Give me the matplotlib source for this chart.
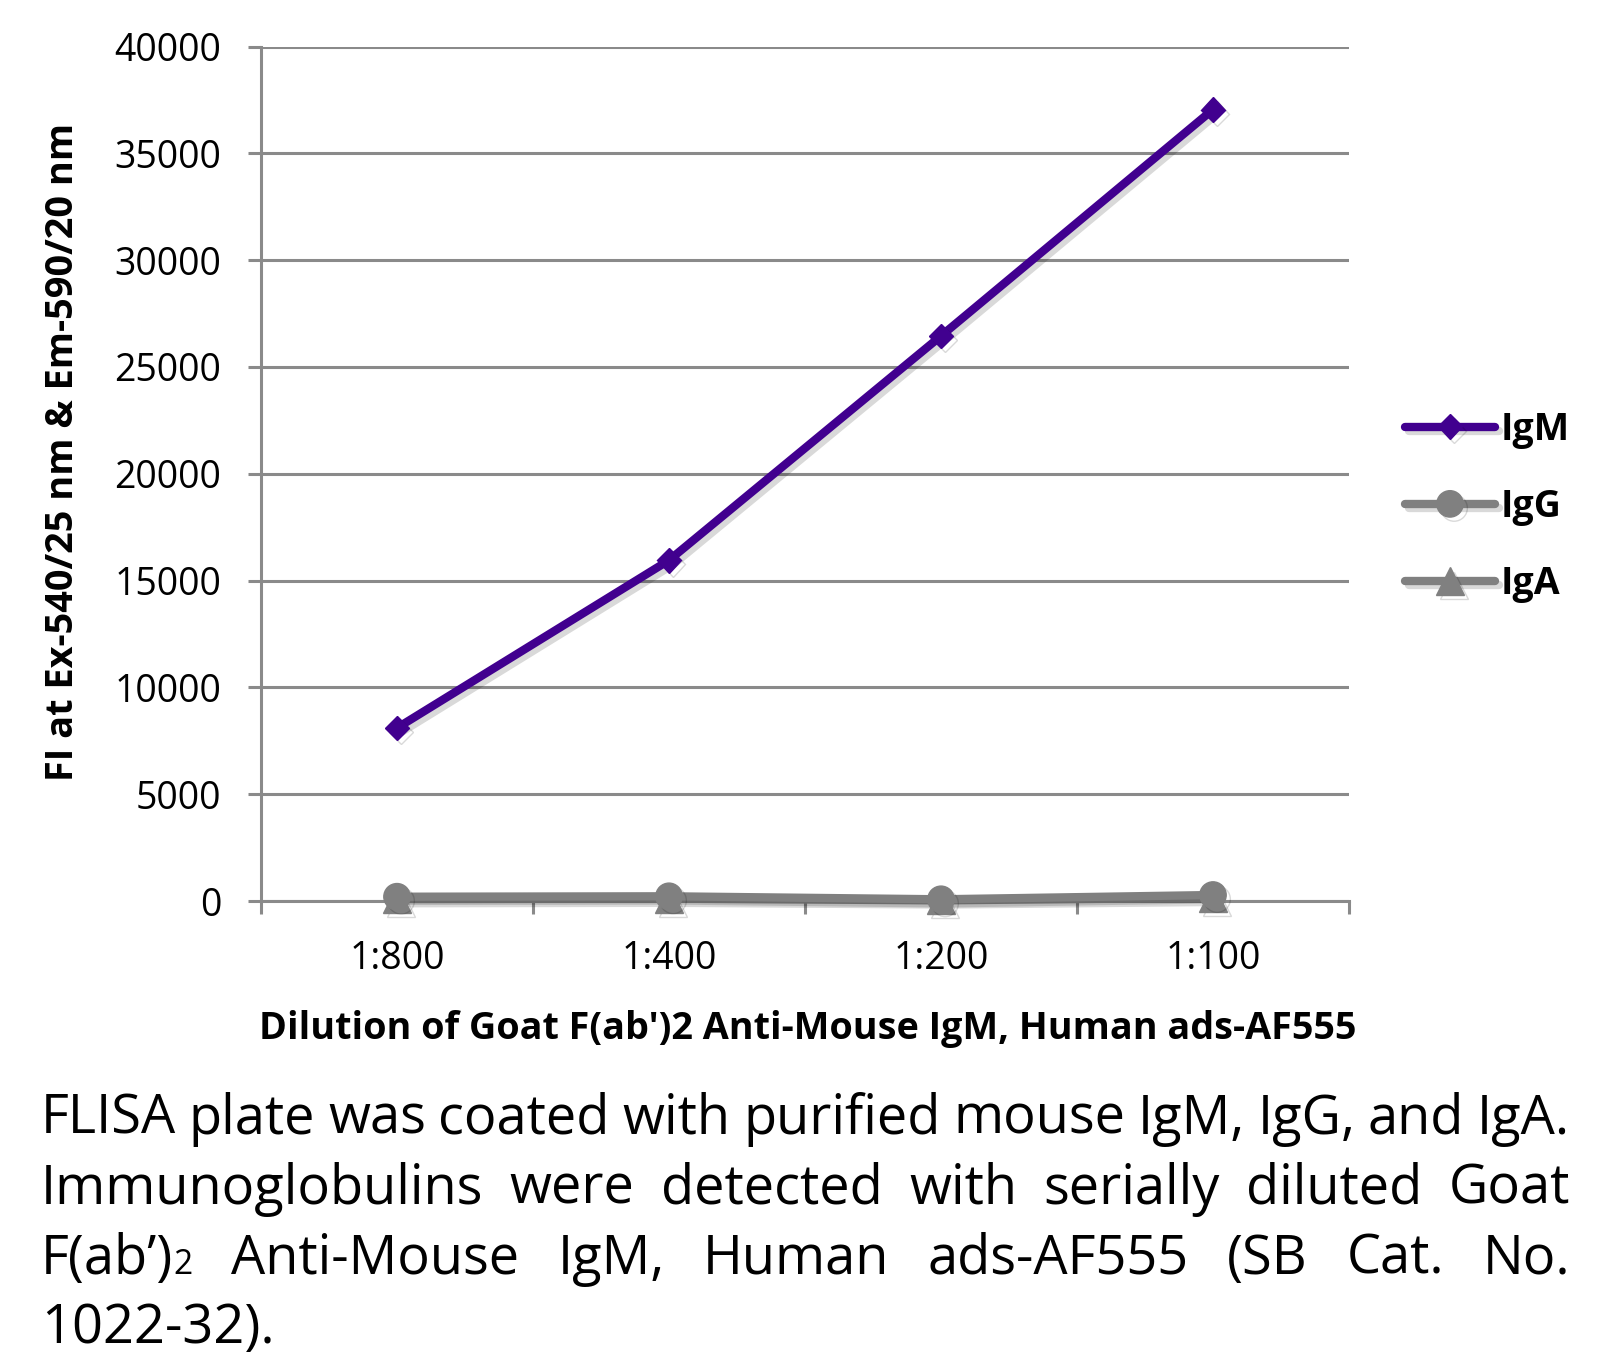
import matplotlib
matplotlib.use("Agg")
import matplotlib.pyplot as plt
import matplotlib.patheffects as pe
from matplotlib.font_manager import FontProperties

# ---------------- data ----------------
categories = ["1:800", "1:400", "1:200", "1:100"]
igm = [8100, 15950, 26450, 37050]
igg = [200, 220, 80, 280]
iga = [90, 110, 30, 150]
series_names = ["IgM", "IgG", "IgA"]
y_ticks = [0, 5000, 10000, 15000, 20000, 25000, 30000, 35000, 40000]

x_label = "Dilution of Goat F(ab')2 Anti-Mouse IgM, Human ads-AF555"
y_label = "FI at Ex-540/25 nm & Em-590/20 nm"
caption_lines = [
    "FLISA plate was coated with purified mouse IgM, IgG, and IgA.",
    "Immunoglobulins were detected with serially diluted Goat",
    "F(ab\u2019)_2 Anti-Mouse IgM, Human ads-AF555 (SB Cat. No.",
    "1022-32).",
]

# ---------------- style ----------------
W, H = 1617, 1356
DPI = 100
FONT = "Open Sans"
PURPLE = "#41008f"
GRAY = "#808080"
GRID = "#8a8a8a"

plt.rcParams["font.family"] = [FONT, "DejaVu Sans"]

fig = plt.figure(figsize=(W / DPI, H / DPI), dpi=DPI)
fig.patch.set_facecolor("white")


def fx(px):
    return px / W


def fy(py):
    return 1 - py / H


ax_l, ax_r, ax_t, ax_b = 261, 1349, 46.5, 901
ax = fig.add_axes([fx(ax_l), fy(ax_b), fx(ax_r - ax_l), (ax_b - ax_t) / H])

xs = list(range(len(categories)))
shadow = [pe.SimpleLineShadow(offset=(3, -3), shadow_color="black", alpha=0.15, rho=1.0),
          pe.Normal()]

lw = 6
l_iga, = ax.plot(xs, iga, color=GRAY, lw=lw, marker="^", ms=20, mec=GRAY, mfc=GRAY,
                 solid_capstyle="round", zorder=3, path_effects=shadow, clip_on=False)
l_igg, = ax.plot(xs, igg, color=GRAY, lw=lw, marker="o", ms=19, mec=GRAY, mfc=GRAY,
                 solid_capstyle="round", zorder=4, path_effects=shadow, clip_on=False)
l_igm, = ax.plot(xs, igm, color=PURPLE, lw=lw, marker="D", ms=12.5, mec=PURPLE, mfc=PURPLE,
                 solid_capstyle="round", zorder=5, path_effects=shadow, clip_on=False)

ax.set_xlim(-0.5, len(categories) - 0.5)
ax.set_ylim(y_ticks[0], y_ticks[-1])

# grid & spines
for s in ["top", "right"]:
    ax.spines[s].set_visible(False)
for s in ["left", "bottom"]:
    ax.spines[s].set_color(GRID)
    ax.spines[s].set_linewidth(2.2)
ax.set_yticks(y_ticks)
ax.yaxis.grid(True, color=GRID, linewidth=2.2)
ax.set_axisbelow(True)
ax.tick_params(axis="y", length=9.5, width=2.2, color=GRID, pad=19, labelsize=27,
               labelcolor="black")
ax.set_yticklabels([str(v) for v in y_ticks])

ax.set_xticks([i - 0.5 for i in range(len(categories) + 1)])
ax.set_xticklabels([])
ax.set_xticks(xs, minor=True)
ax.set_xticklabels(categories, minor=True)
ax.tick_params(axis="x", which="major", length=9.5, width=2.2, color=GRID)
ax.tick_params(axis="x", which="minor", length=0, pad=28, labelsize=27, labelcolor="black")

# axis labels
fig.text(fx(808), fy(1039), x_label, ha="center", va="baseline", fontsize=27.2,
         fontweight="bold")
fig.text(fx(63), fy(452), y_label, ha="center", va="center", rotation=90, fontsize=27.3,
         fontweight="bold")

# legend
leg = ax.legend([l_igm, l_igg, l_iga], series_names, loc="center left",
                bbox_to_anchor=(fx(1405), fy(507)), bbox_transform=fig.transFigure,
                frameon=False, borderpad=0, borderaxespad=0, handlelength=2.4,
                handletextpad=0.15, labelspacing=1.05,
                prop=FontProperties(family=FONT, weight="bold", size=27))

# ---------------- caption (justified) ----------------
fig.canvas.draw()
renderer = fig.canvas.get_renderer()
cap_left, cap_right = 41, 1570
baselines = [1134, 1204, 1274, 1343]
sub_ratio = 0.62


def segs_of(word):
    if "_" in word:
        a, b = word.split("_")
        return [(a, 1.0), (b, sub_ratio)]
    return [(word, 1.0)]


def width_px(text, size):
    fp = FontProperties(family=FONT, size=size)
    w, h, d = renderer.get_text_width_height_descent(text, fp, ismath=False)
    return w


def word_width(word, size):
    return sum(width_px(t, size * r) for t, r in segs_of(word))


cap_size = 40
target = cap_right - cap_left
while True:
    words = caption_lines[0].split(" ")
    nat = sum(word_width(w, cap_size) for w in words) + (len(words) - 1) * width_px(" ", cap_size) * 0.85
    if nat <= target or cap_size < 20:
        break
    cap_size -= 0.25

for i, line in enumerate(caption_lines):
    words = line.split(" ")
    widths = [word_width(w, cap_size) for w in words]
    last = i == len(caption_lines) - 1
    if last or len(words) == 1:
        gap = width_px(" ", cap_size)
    else:
        gap = (target - sum(widths)) / (len(words) - 1)
    x = cap_left
    for w, ww in zip(words, widths):
        xx = x
        for t, r in segs_of(w):
            fig.text(fx(xx), fy(baselines[i]), t, ha="left", va="baseline",
                     fontsize=cap_size * r, color="black")
            xx += width_px(t, cap_size * r)
        x += ww + gap

fig.savefig("out.png", dpi=DPI, facecolor="white")
